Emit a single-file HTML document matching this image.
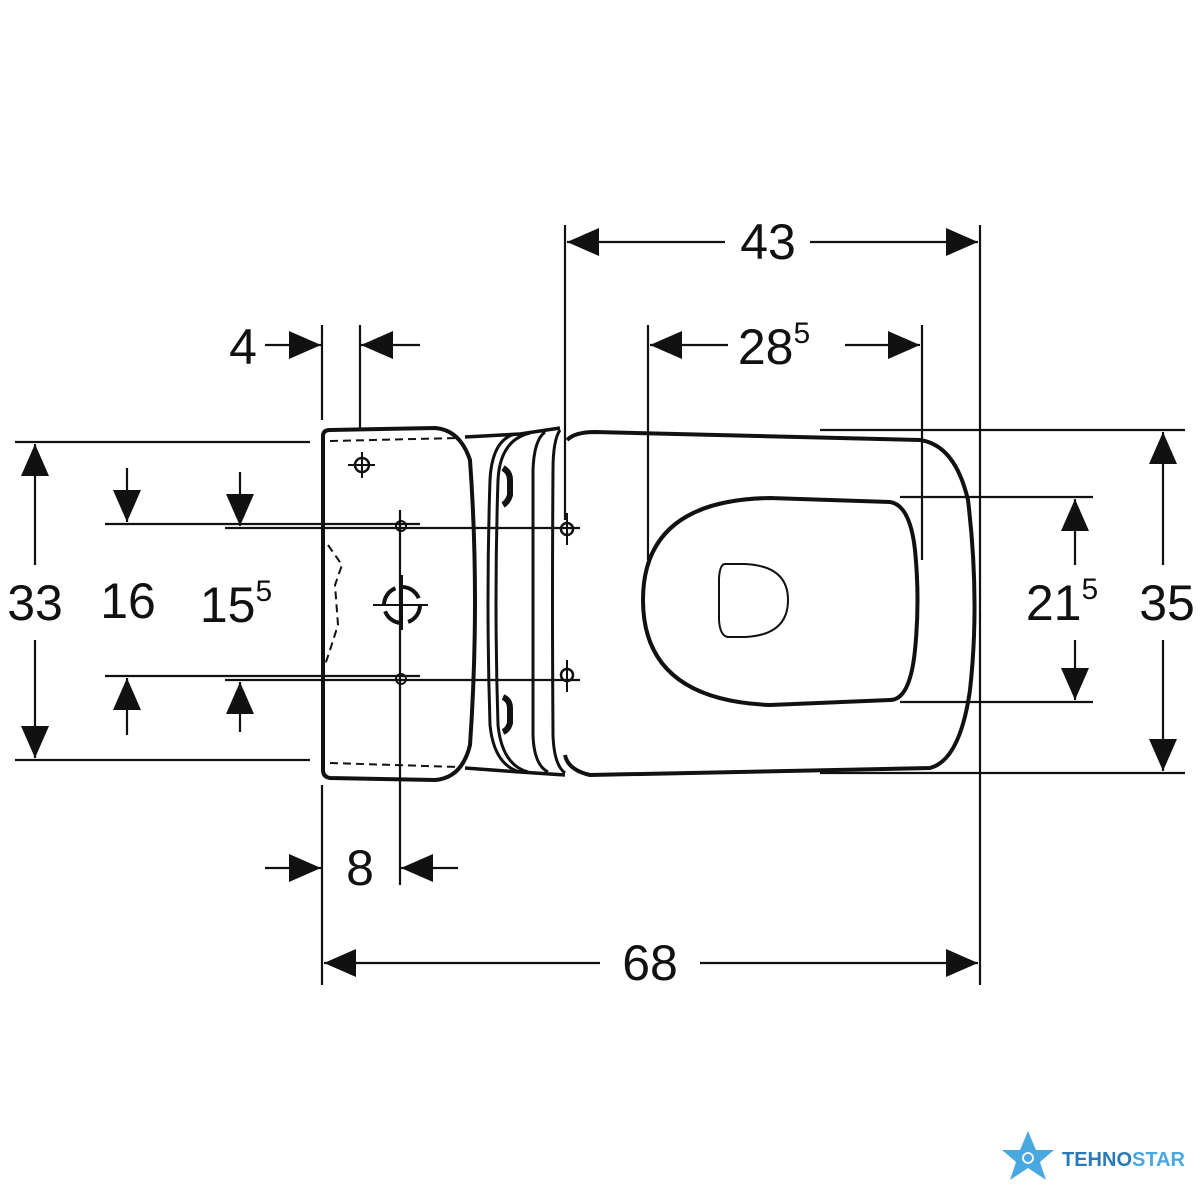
<!DOCTYPE html>
<html><head><style>html,body{margin:0;padding:0;background:#fff}svg{display:block}</style></head><body>
<svg width="1200" height="1200" viewBox="0 0 1200 1200" xmlns="http://www.w3.org/2000/svg" font-family="Liberation Sans, sans-serif">
<defs>
<marker id="a" viewBox="0 0 32 28" refX="32" refY="14" markerWidth="32" markerHeight="28" markerUnits="userSpaceOnUse" orient="auto"><path d="M0,0L32,14L0,28Z" fill="#111"/></marker>
</defs>
<g stroke="#111" stroke-width="2.2" fill="none">
<line x1="565" y1="225" x2="565" y2="520"/>
<line x1="980" y1="225" x2="980" y2="985"/>
<line x1="648" y1="325" x2="648" y2="560"/>
<line x1="922" y1="325" x2="922" y2="560"/>
<line x1="322" y1="325" x2="322" y2="420"/>
<line x1="360" y1="325" x2="360" y2="430"/>
<line x1="322" y1="785" x2="322" y2="985"/>
<line x1="400" y1="510" x2="400" y2="885"/>
<line x1="15" y1="442" x2="310" y2="442"/>
<line x1="15" y1="760" x2="310" y2="760"/>
<line x1="105" y1="524" x2="420" y2="524"/>
<line x1="225" y1="528" x2="580" y2="528"/>
<line x1="105" y1="676" x2="420" y2="676"/>
<line x1="225" y1="680" x2="580" y2="680"/>
<line x1="900" y1="497" x2="1093" y2="497"/>
<line x1="900" y1="702" x2="1093" y2="702"/>
<line x1="820" y1="430" x2="1185" y2="430"/>
<line x1="820" y1="773" x2="1185" y2="773"/>
<line x1="725" y1="242" x2="567" y2="242" marker-end="url(#a)"/>
<line x1="810" y1="242" x2="978" y2="242" marker-end="url(#a)"/>
<line x1="728" y1="345" x2="650" y2="345" marker-end="url(#a)"/>
<line x1="845" y1="345" x2="920" y2="345" marker-end="url(#a)"/>
<line x1="265" y1="345" x2="321" y2="345" marker-end="url(#a)"/>
<line x1="420" y1="345" x2="361" y2="345" marker-end="url(#a)"/>
<line x1="265" y1="868" x2="321" y2="868" marker-end="url(#a)"/>
<line x1="458" y1="868" x2="401" y2="868" marker-end="url(#a)"/>
<line x1="600" y1="963" x2="324" y2="963" marker-end="url(#a)"/>
<line x1="700" y1="963" x2="978" y2="963" marker-end="url(#a)"/>
<line x1="35" y1="565" x2="35" y2="444" marker-end="url(#a)"/>
<line x1="35" y1="640" x2="35" y2="758" marker-end="url(#a)"/>
<line x1="127" y1="468" x2="127" y2="522" marker-end="url(#a)"/>
<line x1="127" y1="735" x2="127" y2="678" marker-end="url(#a)"/>
<line x1="240" y1="472" x2="240" y2="526" marker-end="url(#a)"/>
<line x1="240" y1="732" x2="240" y2="682" marker-end="url(#a)"/>
<line x1="1075" y1="565" x2="1075" y2="499" marker-end="url(#a)"/>
<line x1="1075" y1="640" x2="1075" y2="700" marker-end="url(#a)"/>
<line x1="1163" y1="565" x2="1163" y2="432" marker-end="url(#a)"/>
<line x1="1163" y1="640" x2="1163" y2="771" marker-end="url(#a)"/>
</g>
<g stroke="#111" stroke-width="4" fill="none">
<path d="M330,430 L435,428 Q460,430 470,460 Q480,600 470,745 Q462,778 435,780 L330,778 Q323,777 323,770 L323,436 Q323,430 330,430Z"/>
<path d="M465,437 L520,434 L560,428" stroke-width="3.5"/>
<path d="M465,768 L520,772 L565,775" stroke-width="3.5"/>
<path d="M515,434 Q492,440 490,480 Q486,600 490,725 Q494,765 520,772" stroke-width="3"/>
<path d="M530,433 Q500,440 498,480 Q494,600 498,725 Q502,765 528,772" stroke-width="3"/>
<path d="M545,432 Q534,440 533,470 L533,735 Q534,765 548,772" stroke-width="3"/>
<path d="M560,430 Q553,440 553,470 Q552,600 553,735 Q554,765 565,773" stroke-width="3"/>
<path d="M503,468 Q510,472 510,480 L510,495 Q508,502 503,505" stroke-width="6"/>
<path d="M503,697 Q510,700 510,708 L510,723 Q508,730 503,732" stroke-width="6"/>
</g>
<g stroke="#111" stroke-width="2" fill="none" stroke-dasharray="8,5">
<line x1="330" y1="441" x2="458" y2="438"/>
<line x1="330" y1="763" x2="458" y2="767"/>
<path d="M328,545 L342,565 L335,585 L338,625 L330,650 L325,665"/>
</g>
<g stroke="#111" fill="none">
<circle cx="402" cy="605" r="18" stroke-width="4" stroke-dasharray="22,6"/>
<line x1="373" y1="605" x2="428" y2="605" stroke-width="2"/>
<line x1="402" y1="575" x2="402" y2="630" stroke-width="2"/>
<circle cx="362" cy="465" r="7" stroke-width="2.5"/>
<line x1="348" y1="465" x2="375" y2="465" stroke-width="2"/>
<line x1="362" y1="452" x2="362" y2="478" stroke-width="2"/>
<circle cx="401" cy="526" r="5" stroke-width="2"/>
<circle cx="401" cy="679" r="5" stroke-width="2"/>
<circle cx="567" cy="529" r="6" stroke-width="2.5"/>
<line x1="567" y1="513" x2="567" y2="545" stroke-width="2"/>
<circle cx="567" cy="675" r="6" stroke-width="2.5"/>
<line x1="567" y1="660" x2="567" y2="692" stroke-width="2"/>
</g>
<g stroke="#111" fill="none" stroke-width="4">
<path d="M567,440 Q575,432 595,432 L920,440 Q955,445 968,500 Q980,600 970,690 Q960,760 930,768 L590,775 Q568,770 565,755"/>
<path d="M643,600 Q643,500 770,498 L890,502 Q910,505 915,550 Q920,600 915,650 Q910,700 890,700 L770,705 Q643,700 643,600Z"/>
<path d="M725,564 L745,564 Q788,566 788,600 Q788,635 745,637 L728,637 Q720,636 719,620 L719,578 Q720,564 725,564Z" stroke-width="2"/>
</g>
<g fill="#111" font-size="50" text-anchor="middle" dominant-baseline="central">
<text x="768" y="242">43</text>
<text x="774" y="347">28<tspan font-size="30" dy="-14">5</tspan></text>
<text x="243" y="347">4</text>
<text x="360" y="868">8</text>
<text x="650" y="963">68</text>
<text x="35" y="603">33</text>
<text x="128" y="601">16</text>
<text x="236" y="605">15<tspan font-size="30" dy="-14">5</tspan></text>
<text x="1062" y="603">21<tspan font-size="30" dy="-14">5</tspan></text>
<text x="1167" y="603">35</text>
</g>
<path d="M1028,1131 L1036,1150 L1054,1150 L1040,1162 L1046,1180 L1028,1168 L1010,1180 L1016,1162 L1002,1150 L1020,1150Z" fill="#4aa8e0"/>
<circle cx="1028" cy="1158" r="5" fill="none" stroke="#fff" stroke-width="1.8"/>
<text x="1062" y="1166" font-size="20" font-weight="bold" fill="#2a7ab8">TEHNO<tspan fill="#4aa8e0">STAR</tspan></text>
</svg>
</body></html>
